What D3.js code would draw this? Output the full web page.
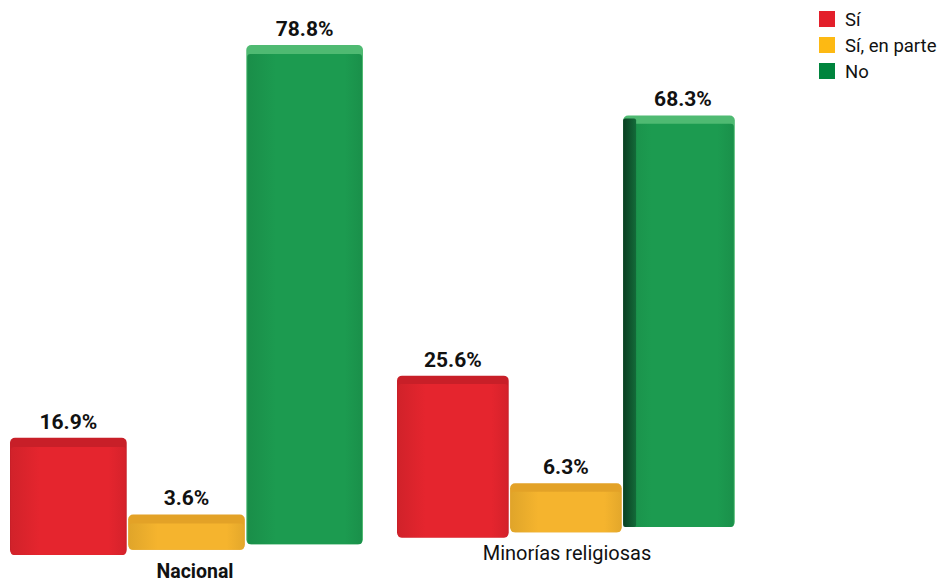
<!DOCTYPE html>
<html><head><meta charset="utf-8">
<script src="https://cdn.jsdelivr.net/npm/d3@7/dist/d3.min.js"></script>
<style>
html,body{margin:0;padding:0;background:#fff;}
svg{display:block;}
</style></head>
<body>
<svg id="chart" width="947" height="583"></svg>
<script>
// ---- data ----
const groups = ["Nacional", "Minorías religiosas"];
const series = ["Sí", "Sí, en parte", "No"];
const valuesNacional = [16.9, 3.6, 78.8];
const valuesMinorias = [25.6, 6.3, 68.3];
const valueLabels = [["16.9%", "3.6%", "78.8%"], ["25.6%", "6.3%", "68.3%"]];

// ---- styles ----
const legendColors = ["#e31f2b", "#fdb913", "#00843d"];
const frontColors = ["#e5252e", "#f5b42e", "#1c9b50"];
const topColors = ["#c81f28", "#e3a227", "#4fba72"];
const font = "Roboto, 'DejaVu Sans', sans-serif";

const svg = d3.select("#chart");
const data = [valuesNacional, valuesMinorias];

const x0 = d3.scaleBand().domain(groups).range([10, 750]).paddingInner(0.0879);
// slight perspective: second group rendered a bit smaller
const groupScale = [1, 0.957];
const x1s = groupScale.map(f => d3.scaleBand().domain(series).range([0, x0.bandwidth() * f]).paddingInner(0.012));
const yScales = groupScale.map((f, i) => d3.scaleLinear().domain([0, 80]).range([0, 80 * [6.17, 5.85][i]]));
const capH = [13, 12];
const baseline = px => 555 - 0.046 * (px - 70);

const defs = svg.append("defs");
frontColors.forEach((c, i) => {
  const g = defs.append("linearGradient").attr("id", "grad" + i).attr("x1", 0).attr("x2", 1).attr("y1", 0).attr("y2", 0);
  g.append("stop").attr("offset", "0%").attr("stop-color", d3.color(c).darker(0.25));
  g.append("stop").attr("offset", "25%").attr("stop-color", c);
  g.append("stop").attr("offset", "85%").attr("stop-color", c);
  g.append("stop").attr("offset", "100%").attr("stop-color", d3.color(c).darker(0.2));
});
const side = defs.append("linearGradient").attr("id", "side").attr("x1", 0).attr("x2", 1);
side.append("stop").attr("offset", "0%").attr("stop-color", "#0b3f22");
side.append("stop").attr("offset", "100%").attr("stop-color", "#136b39");

groups.forEach((grp, gi) => {
  const gEl = svg.append("g");
  const x1 = x1s[gi];
  series.forEach((s, si) => {
    const v = data[gi][si];
    const bx = x0(grp) + x1(s);
    const bw = x1.bandwidth();
    const cx = bx + bw / 2;
    const base = baseline(cx);
    const h = yScales[gi](v) + capH[gi];
    const top = base - h;
    gEl.append("rect").attr("x", bx).attr("y", top).attr("width", bw).attr("height", h)
      .attr("rx", 5).attr("fill", topColors[si]);
    gEl.append("rect").attr("x", bx + 1).attr("y", top + capH[gi] * 0.7).attr("width", bw - 2)
      .attr("height", h - capH[gi] * 0.7).attr("rx", 3).attr("fill", `url(#grad${si})`);
    if (gi === 1 && si === 2) {
      gEl.append("rect").attr("x", bx).attr("y", top + 3).attr("width", 13).attr("height", h - 3)
        .attr("rx", 2).attr("fill", "url(#side)");
    }
    gEl.append("text").attr("x", cx + (gi === 1 && si === 2 ? 4 : 0)).attr("y", top - 9)
      .attr("text-anchor", "middle").attr("font-family", font).attr("font-weight", "bold")
      .attr("font-size", 21).attr("fill", "#111").text(valueLabels[gi][si]);
  });
});

// category labels
svg.append("text").attr("x", 195).attr("y", 578)
  .attr("text-anchor", "middle").attr("font-family", font).attr("font-weight", "bold")
  .attr("font-size", 19.5).attr("fill", "#111").text(groups[0]);
svg.append("text").attr("x", 567).attr("y", 560)
  .attr("text-anchor", "middle").attr("font-family", font)
  .attr("font-size", 20).attr("fill", "#111").text(groups[1]);

// legend
const lg = svg.append("g").attr("transform", "translate(819,11)");
series.forEach((s, i) => {
  const row = lg.append("g").attr("transform", `translate(0,${i * 26})`);
  row.append("rect").attr("width", 16).attr("height", 16).attr("fill", legendColors[i]);
  row.append("text").attr("x", 26).attr("y", 14.5).attr("font-family", font)
    .attr("font-size", 18.5).attr("fill", "#111").text(s);
});
</script>
</body></html>
